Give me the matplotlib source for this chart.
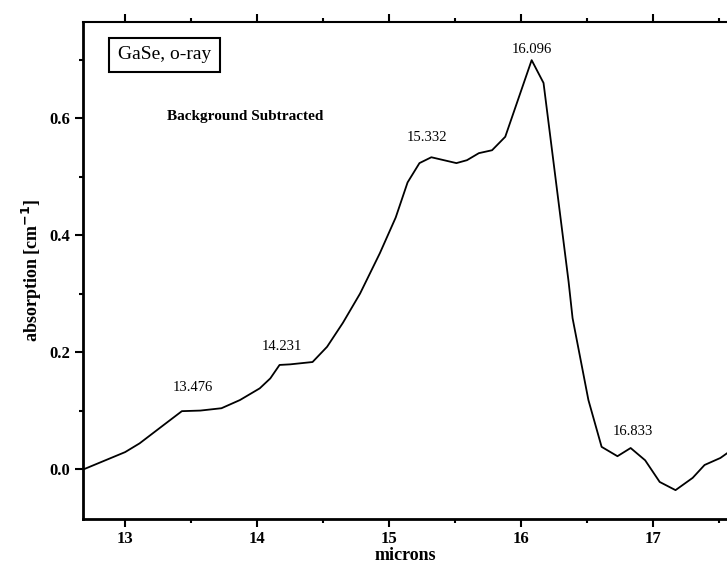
import matplotlib
matplotlib.use("Agg")
import matplotlib.pyplot as plt
from matplotlib.ticker import MultipleLocator

# absorption spectrum (microns, cm^-1)
wavelength = [12.69, 13.00, 13.11, 13.29, 13.43, 13.57, 13.73, 13.87, 14.02, 14.10,
              14.17, 14.25, 14.42, 14.53, 14.65, 14.78, 14.93, 15.05, 15.14, 15.23,
              15.32, 15.51, 15.59, 15.68, 15.78, 15.88, 16.08, 16.17, 16.36, 16.39,
              16.51, 16.61, 16.73, 16.83, 16.94, 17.05, 17.17, 17.30, 17.39, 17.51,
              17.56]
absorption = [0.000, 0.029, 0.044, 0.075, 0.099, 0.100, 0.104, 0.118, 0.138, 0.155,
              0.178, 0.179, 0.183, 0.209, 0.250, 0.300, 0.369, 0.430, 0.490, 0.523,
              0.533, 0.523, 0.528, 0.540, 0.545, 0.568, 0.699, 0.660, 0.320, 0.258,
              0.118, 0.038, 0.022, 0.036, 0.015, -0.022, -0.036, -0.015, 0.007, 0.019,
              0.027]

peak_labels = ["13.476", "14.231", "15.332", "16.096", "16.833"]
peak_label_x = [13.51, 14.19, 15.29, 16.08, 16.85]
peak_label_y = [0.140, 0.210, 0.567, 0.718, 0.065]

plt.rcParams["font.family"] = ["Liberation Serif", "DejaVu Serif"]

fig = plt.figure(figsize=(7.27, 5.67), dpi=100)
ax = fig.add_axes([0.114, 0.085, 0.886, 0.876])

ax.plot(wavelength, absorption, color="black", linewidth=1.3)

for txt, x, y in zip(peak_labels, peak_label_x, peak_label_y):
    ax.text(x, y, txt, ha="center", va="center", fontsize=10.5, color="black")

ax.text(0.130, 0.809, "Background Subtracted", transform=ax.transAxes,
        fontsize=11, fontweight="bold", ha="left", va="center")
ax.text(0.127, 0.934, "GaSe, o-ray", transform=ax.transAxes, fontsize=14,
        ha="center", va="center",
        bbox=dict(boxstyle="square,pad=0.45", facecolor="white",
                  edgecolor="black", linewidth=1.5))

ax.set_xlim(12.68, 17.56)
ax.set_ylim(-0.085, 0.764)
ax.xaxis.set_major_locator(MultipleLocator(1))
ax.xaxis.set_minor_locator(MultipleLocator(0.5))
ax.yaxis.set_major_locator(MultipleLocator(0.2))
ax.yaxis.set_minor_locator(MultipleLocator(0.1))
ax.yaxis.set_major_formatter(plt.FuncFormatter(lambda v, p: f"{v:.1f}"))

ax.tick_params(which="both", direction="out", top=True, width=1.5,
               labelsize=12, pad=3)
ax.tick_params(which="major", length=6)
ax.tick_params(which="minor", length=3)
for lbl in ax.get_xticklabels() + ax.get_yticklabels():
    lbl.set_fontweight("bold")

ax.spines["right"].set_visible(False)
ax.spines["left"].set_linewidth(2)
ax.spines["bottom"].set_linewidth(2)
ax.spines["top"].set_linewidth(1.5)

ax.set_xlabel("microns", fontsize=13, fontweight="bold", labelpad=0)
ax.set_ylabel("absorption [cm$^{\\mathbf{-1}}$]", fontsize=13, fontweight="bold",
              labelpad=4)

fig.savefig("out.png", dpi=100, facecolor="white")
